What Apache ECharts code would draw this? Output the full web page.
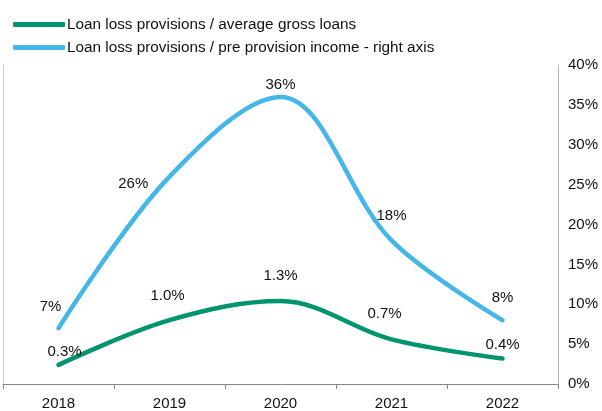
<!DOCTYPE html>
<html><head><meta charset="utf-8">
<script src="https://cdn.jsdelivr.net/npm/echarts@6/dist/echarts.min.js"></script>
<style>html,body{margin:0;padding:0;background:#fff}#c{width:602px;height:411px}</style>
</head><body><div id="c"></div>
<script>
var categories = ['2018', '2019', '2020', '2021', '2022'];
var lossToLoans = [0.3, 1.0, 1.3, 0.7, 0.4];
var lossToIncome = [7, 26, 36, 18, 8];
var rightTicks = [0, 5, 10, 15, 20, 25, 30, 35, 40];

var greenOffsets = [[6, 0], [-2, -12], [0, -12], [-7, -13], [0, -1]];
var blueOffsets = [[-8, -9], [-16, 7], [0, 1], [0, -12], [0, -10]];
var bluePos = ['top', 'left', 'top', 'top', 'top'];

var font = 'Liberation Sans, Arial, sans-serif';
var fs = 15;
var chart = echarts.init(document.getElementById('c'));
chart.setOption({
  animation: false,
  textStyle: { fontFamily: font },
  legend: {
    orient: 'vertical', left: 8, top: 12, itemGap: 8,
    itemWidth: 52, itemHeight: 5, icon: 'roundRect',
    textStyle: { fontSize: 15.3, color: '#111', fontFamily: font, padding: [0, 0, 0, -3] },
    data: ['Loan loss provisions / average gross loans', 'Loan loss provisions / pre provision income - right axis']
  },
  grid: { left: 3, right: 44, top: 65, bottom: 27 },
  xAxis: {
    type: 'category', data: categories, boundaryGap: true,
    axisLine: { lineStyle: { color: '#888', width: 1 } },
    axisTick: { show: true, length: 5, lineStyle: { color: '#888' } },
    axisLabel: { color: '#111', fontSize: fs, margin: 12, fontFamily: font }
  },
  yAxis: [
    { type: 'value', min: 0, max: 5, interval: 0.625, position: 'left',
      axisLine: { show: true, lineStyle: { color: '#ccc' } },
      axisTick: { show: false }, axisLabel: { show: false }, splitLine: { show: false } },
    { type: 'value', min: rightTicks[0], max: rightTicks[rightTicks.length - 1], interval: 5, position: 'right',
      axisLine: { show: true, lineStyle: { color: '#bbb' } },
      axisTick: { show: false }, splitLine: { show: false },
      axisLabel: { color: '#111', fontSize: fs, margin: 10, formatter: '{value}%', fontFamily: font } }
  ],
  series: [
    { name: 'Loan loss provisions / average gross loans', type: 'line', yAxisIndex: 0,
      smooth: 0.35, symbol: 'circle', symbolSize: 0.5, showSymbol: true,
      lineStyle: { width: 4.5, color: '#00956E', cap: 'round' },
      itemStyle: { color: '#00956E' },
      data: lossToLoans.map(function (v, i) {
        return { value: v, label: { show: true, position: 'top', offset: greenOffsets[i],
          formatter: v.toFixed(1) + '%', color: '#111', fontSize: fs, fontFamily: font } };
      }) },
    { name: 'Loan loss provisions / pre provision income - right axis', type: 'line', yAxisIndex: 1,
      smooth: 0.35, symbol: 'circle', symbolSize: 0.5, showSymbol: true,
      lineStyle: { width: 4.5, color: '#45B6E8', cap: 'round' },
      itemStyle: { color: '#45B6E8' },
      data: lossToIncome.map(function (v, i) {
        return { value: v, label: { show: true, position: bluePos[i], offset: blueOffsets[i],
          formatter: v + '%', color: '#111', fontSize: fs, fontFamily: font } };
      }) }
  ]
});
</script></body></html>
